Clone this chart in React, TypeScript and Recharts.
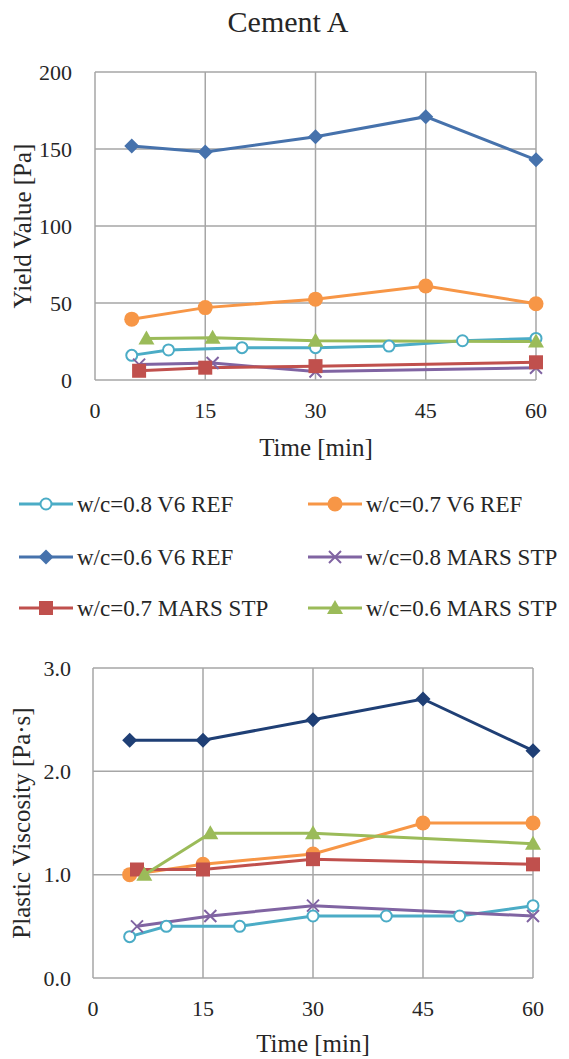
import React from "react";
import { LineChart, Line, XAxis, YAxis, CartesianGrid } from "recharts";

const FONT = '"Liberation Serif", "Times New Roman", serif';
const TEXT = "#262626";
const GRID = "#A6A6A6";

// sampling times [min] per series
const timesV6Ref08 = [5, 10, 20, 30, 40, 50, 60];
const timesV6Ref = [5, 15, 30, 45, 60];
const timesMars08 = [6, 16, 30, 60];
const timesMars07 = [6, 15, 30, 60];
const timesMars06 = [7, 16, 30, 60];

// yield value [Pa]
const yieldV6Ref08 = [16, 19.5, 21, 21, 22, 25.5, 27];
const yieldV6Ref07 = [39.5, 47, 52.5, 61, 49.5];
const yieldV6Ref06 = [152, 148, 158, 171, 143];
const yieldMars08 = [10, 11, 5.5, 8];
const yieldMars07 = [6, 8, 9, 11.5];
const yieldMars06 = [27, 27.5, 25.5, 25];

// plastic viscosity [Pa·s]
const viscV6Ref08 = [0.4, 0.5, 0.5, 0.6, 0.6, 0.6, 0.7];
const viscV6Ref07 = [1.0, 1.1, 1.2, 1.5, 1.5];
const viscV6Ref06 = [2.3, 2.3, 2.5, 2.7, 2.2];
const viscMars08 = [0.5, 0.6, 0.7, 0.6];
const viscMars07 = [1.05, 1.05, 1.15, 1.1];
const viscMars06 = [1.0, 1.4, 1.4, 1.3];

const timeTicks = [0, 15, 30, 45, 60];
const yieldTicks = [0, 50, 100, 150, 200];
const viscTicks = [0, 1, 2, 3];

type Shape = "openCircle" | "circle" | "diamond" | "cross" | "square" | "triangle";

const zip = (xs: number[], ys: number[]) => xs.map((t, i) => ({ t, v: ys[i] }));

const series = [
  { name: "w/c=0.8 V6 REF", color: "#4BACC6", shape: "openCircle" as Shape, times: timesV6Ref08, yld: yieldV6Ref08, visc: viscV6Ref08 },
  { name: "w/c=0.7 V6 REF", color: "#F79646", shape: "circle" as Shape, times: timesV6Ref, yld: yieldV6Ref07, visc: viscV6Ref07 },
  { name: "w/c=0.6 V6 REF", color: "#4672AC", darkColor: "#1F3F75", shape: "diamond" as Shape, times: timesV6Ref, yld: yieldV6Ref06, visc: viscV6Ref06 },
  { name: "w/c=0.8 MARS STP", color: "#8064A2", shape: "cross" as Shape, times: timesMars08, yld: yieldMars08, visc: viscMars08 },
  { name: "w/c=0.7 MARS STP", color: "#C0504D", shape: "square" as Shape, times: timesMars07, yld: yieldMars07, visc: viscMars07 },
  { name: "w/c=0.6 MARS STP", color: "#9BBB59", shape: "triangle" as Shape, times: timesMars06, yld: yieldMars06, visc: viscMars06 },
];

function Marker({ shape, cx, cy, color }: { shape: Shape; cx: number; cy: number; color: string }) {
  if (cx == null || cy == null) return null;
  switch (shape) {
    case "openCircle":
      return <circle cx={cx} cy={cy} r={5.5} fill="#fff" stroke={color} strokeWidth={2} />;
    case "circle":
      return <circle cx={cx} cy={cy} r={7.5} fill={color} />;
    case "diamond":
      return <path d={`M${cx},${cy - 7.5}L${cx + 7.5},${cy}L${cx},${cy + 7.5}L${cx - 7.5},${cy}Z`} fill={color} />;
    case "cross":
      return (
        <path
          d={`M${cx - 6},${cy - 6}L${cx + 6},${cy + 6}M${cx - 6},${cy + 6}L${cx + 6},${cy - 6}`}
          stroke={color}
          strokeWidth={2}
        />
      );
    case "square":
      return <rect x={cx - 7} y={cy - 7} width={14} height={14} fill={color} />;
    case "triangle":
      return <path d={`M${cx},${cy - 8}L${cx + 8},${cy + 6}L${cx - 8},${cy + 6}Z`} fill={color} />;
  }
  return null;
}

const dotFor = (shape: Shape, color: string) => (p: any) =>
  <Marker key={`d-${p.index}`} shape={shape} cx={p.cx} cy={p.cy} color={color} />;

const tickStyle = { fontSize: 22, fill: TEXT, fontFamily: FONT };

function AxisTitle({ text, x, y, rotate, size = 25 }: { text: string; x: number; y: number; rotate?: boolean; size?: number }) {
  return (
    <div
      style={{
        position: "absolute",
        left: x,
        top: y,
        transform: `translate(-50%, -50%)${rotate ? " rotate(-90deg)" : ""}`,
        whiteSpace: "nowrap",
        fontSize: size,
        lineHeight: 1,
        color: TEXT,
      }}
    >
      {text}
    </div>
  );
}

function LegendItem({ s, x, y }: { s: (typeof series)[number]; x: number; y: number }) {
  return (
    <div style={{ position: "absolute", left: x, top: y - 12, height: 24, display: "flex", alignItems: "center" }}>
      <svg width={56} height={24} style={{ display: "block" }}>
        <line x1={1} y1={12} x2={55} y2={12} stroke={s.color} strokeWidth={3} />
        <Marker shape={s.shape} cx={28} cy={12} color={s.color} />
      </svg>
      <span style={{ marginLeft: 3, fontSize: 23, lineHeight: 1, color: TEXT, whiteSpace: "nowrap" }}>{s.name}</span>
    </div>
  );
}

export default function App() {
  const legendCols = [18, 307];
  const legendRows = [504, 557, 608];

  return (
    <div style={{ position: "absolute", left: 0, top: 0, width: 569, height: 1059, fontFamily: FONT, background: "#fff" }}>
      <AxisTitle text="Cement A" x={288} y={22} size={30} />

      <div style={{ position: "absolute", left: 0, top: 0 }}>
        <LineChart width={569} height={470} margin={{ top: 72, right: 33, bottom: 0, left: 0 }}>
          <CartesianGrid stroke={GRID} strokeWidth={1.5} />
          <XAxis
            type="number"
            dataKey="t"
            domain={[0, 60]}
            ticks={timeTicks}
            height={90}
            tickLine={false}
            axisLine={false}
            tickSize={0}
            tickMargin={22}
            tick={tickStyle}
            allowDuplicatedCategory={false}
          />
          <YAxis
            type="number"
            domain={[0, 200]}
            ticks={yieldTicks}
            width={95}
            tickLine={false}
            axisLine={false}
            tickSize={0}
            tickMargin={23}
            tick={tickStyle}
          />
          {series.map((s) => (
            <Line
              key={s.name}
              data={zip(s.times, s.yld)}
              dataKey="v"
              type="linear"
              stroke={s.color}
              strokeWidth={3}
              dot={dotFor(s.shape, s.color)}
              activeDot={false}
              isAnimationActive={false}
            />
          ))}
        </LineChart>
      </div>
      <AxisTitle text="Yield Value [Pa]" x={22} y={226} rotate />
      <AxisTitle text="Time [min]" x={316} y={447} />

      {series.map((s, i) => (
        <LegendItem key={s.name} s={s} x={legendCols[i % 2]} y={legendRows[Math.floor(i / 2)]} />
      ))}

      <div style={{ position: "absolute", left: 0, top: 600 }}>
        <LineChart width={569} height={459} margin={{ top: 68, right: 36, bottom: 0, left: 0 }}>
          <CartesianGrid stroke={GRID} strokeWidth={1.5} />
          <XAxis
            type="number"
            dataKey="t"
            domain={[0, 60]}
            ticks={timeTicks}
            height={81}
            tickLine={false}
            axisLine={false}
            tickSize={0}
            tickMargin={22}
            tick={tickStyle}
            allowDuplicatedCategory={false}
          />
          <YAxis
            type="number"
            domain={[0, 3]}
            ticks={viscTicks}
            width={93}
            tickLine={false}
            axisLine={false}
            tickSize={0}
            tickMargin={22}
            tick={tickStyle}
            tickFormatter={(v: number) => v.toFixed(1)}
          />
          {series.map((s) => {
            const c = s.darkColor ?? s.color;
            return (
              <Line
                key={s.name}
                data={zip(s.times, s.visc)}
                dataKey="v"
                type="linear"
                stroke={c}
                strokeWidth={3}
                dot={dotFor(s.shape, c)}
                activeDot={false}
                isAnimationActive={false}
              />
            );
          })}
        </LineChart>
      </div>
      <AxisTitle text="Plastic Viscosity [Pa·s]" x={21} y={823} rotate />
      <AxisTitle text="Time [min]" x={313} y={1043} />
    </div>
  );
}
